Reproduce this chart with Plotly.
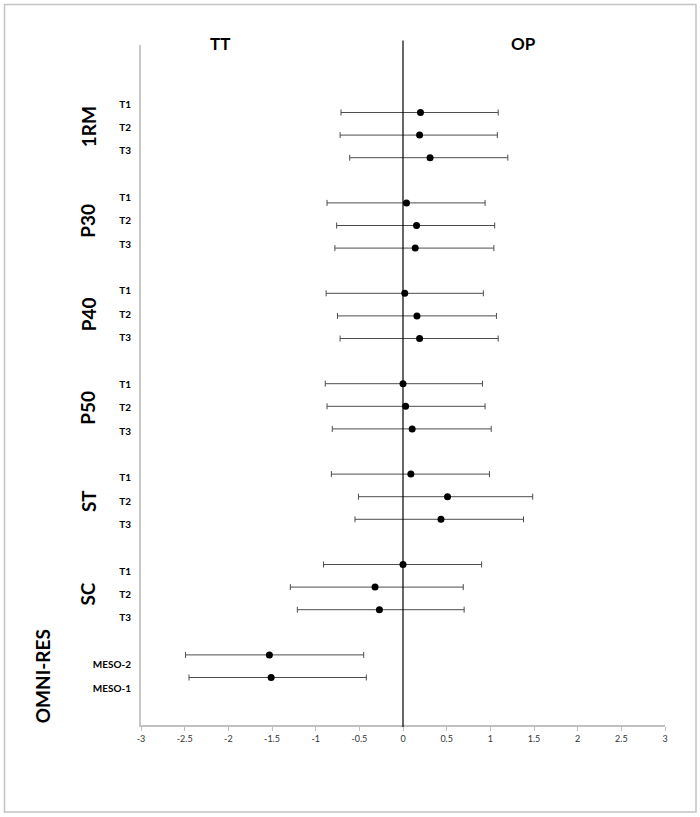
import plotly.graph_objects as go

# ---------------- data ----------------
groups = ["1RM", "P30", "P40", "P50", "ST", "SC", "OMNI-RES"]
row_labels = [
    ["T1", "T2", "T3"],
    ["T1", "T2", "T3"],
    ["T1", "T2", "T3"],
    ["T1", "T2", "T3"],
    ["T1", "T2", "T3"],
    ["T1", "T2", "T3"],
    ["MESO-2", "MESO-1"],
]
effect = [
    [0.20, 0.19, 0.31],
    [0.04, 0.155, 0.14],
    [0.02, 0.16, 0.19],
    [0.00, 0.03, 0.105],
    [0.09, 0.51, 0.435],
    [0.00, -0.32, -0.27],
    [-1.53, -1.51],
]
ci_low = [
    [-0.71, -0.72, -0.61],
    [-0.87, -0.76, -0.78],
    [-0.88, -0.75, -0.72],
    [-0.89, -0.87, -0.81],
    [-0.82, -0.51, -0.55],
    [-0.91, -1.29, -1.21],
    [-2.49, -2.45],
]
ci_high = [
    [1.09, 1.08, 1.20],
    [0.94, 1.05, 1.04],
    [0.92, 1.07, 1.09],
    [0.91, 0.94, 1.01],
    [0.99, 1.485, 1.38],
    [0.90, 0.69, 0.70],
    [-0.45, -0.42],
]
x_tick_vals = [-3, -2.5, -2, -1.5, -1, -0.5, 0, 0.5, 1, 1.5, 2, 2.5, 3]
x_tick_text = ["-3", "-2.5", "-2", "-1.5", "-1", "-0.5", "0", "0.5", "1", "1.5", "2", "2.5", "3"]
header_left = "TT"
header_right = "OP"

# ---------------- row positions (one blank row between groups) ----------------
n_rows = sum(len(r) for r in row_labels) + len(groups) - 1
xs, ys, lows, highs, labels = [], [], [], [], []
group_centers = []
pos = n_rows
for g, labs in enumerate(row_labels):
    start = pos
    for i, lab in enumerate(labs):
        xs.append(effect[g][i])
        ys.append(pos)
        lows.append(effect[g][i] - ci_low[g][i])
        highs.append(ci_high[g][i] - effect[g][i])
        labels.append(lab)
        pos -= 1
    group_centers.append((start + pos + 1) / 2)
    pos -= 1

# ---------------- geometry helpers (layout only) ----------------
W, H = 700, 817
ML, MR, MT, MB = 141, 35, 45, 92
PW, PH = W - ML - MR, H - MT - MB


def px_x(p):
    return (p - ML) / PW


def px_y(p):
    return (H - MB - p) / PH


FONT = "Lato, 'Open Sans', sans-serif"

fig = go.Figure()
fig.add_trace(go.Scatter(
    x=xs, y=ys, mode="markers",
    marker=dict(color="black", size=7),
    error_x=dict(type="data", symmetric=False, array=highs, arrayminus=lows,
                 color="#4d4d4d", thickness=1, width=3),
    showlegend=False, hoverinfo="x+y",
))
# invisible trace to carry the label axis
fig.add_trace(go.Scatter(x=[None], y=[None], yaxis="y2", showlegend=False, hoverinfo="skip"))

annotations = []
for g, name in enumerate(groups):
    annotations.append(dict(
        text=name, xref="paper", yref="y2",
        x=px_x(42 if name == "OMNI-RES" else 88), y=group_centers[g],
        textangle=-90, showarrow=False, xanchor="center", yanchor="middle",
        font=dict(family=FONT, size=19, color="black", weight="bold"),
    ))
annotations.append(dict(text=header_left, xref="x", yref="paper", x=-2.1, y=px_y(31),
                        showarrow=False, font=dict(family=FONT, size=17, color="black", weight="bold")))
annotations.append(dict(text=header_right, xref="x", yref="paper", x=1.38, y=px_y(31),
                        showarrow=False, font=dict(family=FONT, size=17, color="black", weight="bold")))

shapes = [
    dict(type="line", xref="x", yref="paper", x0=0, x1=0, y0=px_y(727), y1=px_y(40.5),
         line=dict(color="black", width=1.2)),
    dict(type="rect", xref="paper", yref="paper", x0=px_x(4.5), x1=px_x(696), y0=px_y(812), y1=px_y(4.5),
         line=dict(color="#c4c4c4", width=1.5), fillcolor="rgba(0,0,0,0)", layer="below"),
]

# y ranges: marker rows at 22.6 px / row, label rows at 23.36 px / row
span_y = PH / 22.6
ymax = n_rows + (112.5 - MT) / 22.6
span_y2 = PH / 23.36
y2max = n_rows + (104 - MT) / 23.36

fig.update_layout(
    width=W, height=H,
    margin=dict(l=ML, r=MR, t=MT, b=MB),
    paper_bgcolor="white", plot_bgcolor="white",
    font=dict(family=FONT, color="black"),
    xaxis=dict(range=[-3, 3], tickvals=x_tick_vals, ticktext=x_tick_text,
               showgrid=False, zeroline=False, showline=True, linecolor="#bfbfbf", linewidth=1.5,
               ticks="outside", ticklen=4, tickcolor="#bfbfbf",
               tickfont=dict(family=FONT, size=9, color="#333333")),
    yaxis=dict(range=[ymax - span_y, ymax], showgrid=False, zeroline=False,
               showline=True, linecolor="#c8c8c8", linewidth=1.5, showticklabels=False, ticks=""),
    yaxis2=dict(range=[y2max - span_y2, y2max], overlaying="y", side="left",
                tickvals=ys, ticktext=labels, showgrid=False, zeroline=False, showline=False,
                ticks="", ticklabelstandoff=9,
                tickfont=dict(family=FONT, size=10, color="black", weight="bold")),
    annotations=annotations,
    shapes=shapes,
)

fig.write_html("out.html", config={"displayModeBar": False},
               post_script="document.body.style.margin='0px';document.body.style.overflow='hidden';")
